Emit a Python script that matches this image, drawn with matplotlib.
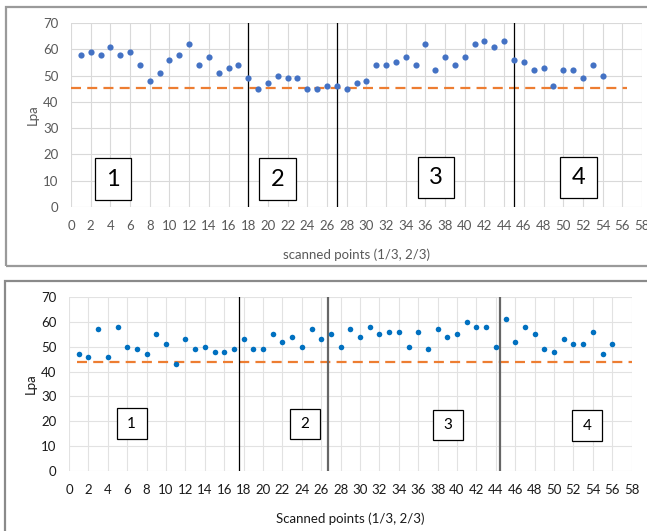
import numpy as np
import matplotlib.pyplot as plt
from matplotlib.patches import Rectangle

plt.rcParams['font.family'] = ['Lato', 'DejaVu Sans']

# pontos medidos - primeira medicao
x_cima = list(range(1, 55))
lpa_cima = [58, 59, 58, 61, 58, 59, 54, 48, 51, 56, 58, 62, 54, 57, 51, 53, 54, 49,
            45, 47, 50, 49, 49, 45, 45, 46, 46, 45, 47, 48, 54, 54, 55, 57, 54, 62,
            52, 57, 54, 57, 62, 63, 61, 63, 56, 55, 52, 53, 46, 52, 52, 49, 54, 50]
ref_cima = 45.4
ref_cima_x = [0, 56.5]
divisoes_cima = [18, 27, 45]

# pontos medidos - segunda medicao
x_baixo = list(range(1, 57))
lpa_baixo = [47, 46, 57, 46, 58, 50, 49, 47, 55, 51, 43, 53, 49, 50, 48, 48, 49, 53,
             49, 49, 55, 52, 54, 50, 57, 53, 55, 50, 57, 54, 58, 55, 56, 56, 50, 56,
             49, 57, 54, 55, 60, 58, 58, 50, 61, 52, 58, 55, 49, 48, 53, 51, 51, 56,
             47, 51]
ref_baixo = 44.0
ref_baixo_x = [0.8, 58]
divisoes_baixo = [17.5, 26.7, 44.4]

zonas = ['1', '2', '3', '4']
# caixas das zonas (x0, x1, y0, y1)
caixas_cima = [(2.4, 6.1, 2.7, 18.6), (19.1, 22.9, 2.7, 18.6),
               (35.2, 38.9, 3.4, 19.0), (49.7, 53.4, 3.4, 19.0)]
caixas_baixo = [(4.9, 8.0, 12.9, 25.3), (22.8, 25.9, 12.9, 24.9),
                (37.5, 40.6, 12.4, 24.5), (51.9, 54.9, 12.0, 24.5)]

W, H = 647, 531
fig = plt.figure(figsize=(W / 100, H / 100), dpi=100)


def px(x0, y0, x1, y1):
    # caixa em pixels (origem no topo) -> fracao da figura
    return [x0 / W, 1 - y1 / H, (x1 - x0) / W, (y1 - y0) / H]


# molduras dos dois graficos
fig.patches.append(Rectangle((6 / W, 1 - 266 / H), 700 / W, 259 / H, transform=fig.transFigure,
                             fill=False, edgecolor='#9a9a9a', linewidth=1.6))
fig.patches.append(Rectangle((5 / W, 1 - 560 / H), 700 / W, 279 / H, transform=fig.transFigure,
                             fill=False, edgecolor='#8a8a8a', linewidth=1.6))


def montar(ax, cor_txt, cor_grade, titulo_x):
    ax.set_xlim(0, 58)
    ax.set_ylim(0, 70)
    ax.set_xticks(np.arange(0, 59, 2))
    ax.set_yticks(np.arange(0, 71, 10))
    ax.grid(True, color=cor_grade, linewidth=0.8)
    ax.set_axisbelow(True)
    for s in ax.spines.values():
        s.set_visible(False)
    ax.tick_params(length=0, labelsize=9.5, labelcolor=cor_txt, pad=9)
    ax.set_xlabel(titulo_x, fontsize=9.5, color=cor_txt, labelpad=12)
    ax.set_ylabel('Lpa', fontsize=9.5, color=cor_txt, labelpad=3)


# grafico de cima
ax1 = fig.add_axes(px(71, 23, 642, 207))
montar(ax1, '#595959', '#d9d9d9', 'scanned points (1/3, 2/3)')
ax1.plot(ref_cima_x, [ref_cima, ref_cima], color='#ED7D31', linewidth=1.6,
         dashes=(4.5, 2.8), zorder=2)
for d in divisoes_cima:
    ax1.plot([d, d], [0, 70], color='black', linewidth=0.9, zorder=3)
ax1.scatter(x_cima, lpa_cima, s=20, color='#4472C4', zorder=4, linewidths=0)
for z, (a, b, c, d) in zip(zonas, caixas_cima):
    ax1.add_patch(Rectangle((a, c), b - a, d - c, fill=True, facecolor='white',
                            edgecolor='black', linewidth=0.9, zorder=5))
    ax1.text((a + b) / 2, (c + d) / 2, z, fontsize=17, ha='center', va='center',
             color='black', zorder=6)

# grafico de baixo
ax2 = fig.add_axes(px(69, 297, 631.6, 471))
montar(ax2, '#1a1a1a', '#e2e2e2', 'Scanned points (1/3, 2/3)')
ax2.plot(ref_baixo_x, [ref_baixo, ref_baixo], color='#ED7D31', linewidth=1.6,
         dashes=(4.5, 2.8), zorder=2)
ax2.plot([divisoes_baixo[0]] * 2, [0, 70], color='black', linewidth=0.9, zorder=3)
for d in divisoes_baixo[1:]:
    ax2.plot([d, d], [0, 70], color='#666666', linewidth=1.6, zorder=3)
ax2.scatter(x_baixo, lpa_baixo, s=16, color='#0070C0', zorder=4, linewidths=0)
for z, (a, b, c, d) in zip(zonas, caixas_baixo):
    ax2.add_patch(Rectangle((a, c), b - a, d - c, fill=True, facecolor='white',
                            edgecolor='black', linewidth=0.9, zorder=5))
    ax2.text((a + b) / 2, (c + d) / 2, z, fontsize=11, ha='center', va='center',
             color='black', zorder=6)

plt.savefig('out.png', dpi=100)
